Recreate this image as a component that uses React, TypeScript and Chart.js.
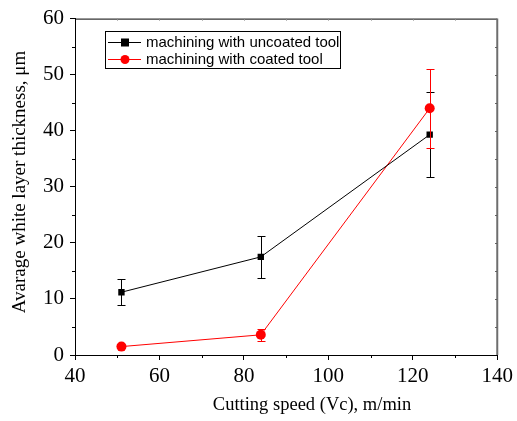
import React, { useEffect, useRef } from "react";
import { Chart, registerables } from "chart.js";
Chart.register(...registerables);

const speeds = [51, 84, 124];
const uncoated = [11.2, 17.5, 39.3];
const uncoatedErr = [2.3, 3.8, 7.6];
const coated = [1.5, 3.6, 44.0];
const coatedErr = [0.2, 1.1, 7.0];
const xTicks = [40, 60, 80, 100, 120, 140];
const yTicks = [0, 10, 20, 30, 40, 50, 60];
const legendLabels = ["machining with uncoated tool", "machining with coated tool"];
const xTitle = "Cutting speed (Vc), m/min";
const yTitle = "Avarage white layer thickness, μm";

const serif = "'Liberation Serif', 'Times New Roman', serif";
const sans = "'Liberation Sans', Arial, sans-serif";

const decor = {
  id: "decor",
  beforeDatasetsDraw(chart: any) {
    const { ctx, chartArea: a, scales } = chart;
    const xs = scales.x, ys = scales.y;
    ctx.save();
    ctx.strokeStyle = "#000";
    ctx.lineWidth = 1;
    for (let v = 50; v < 140; v += 20) {
      const px = Math.round(xs.getPixelForValue(v)) + 0.5;
      ctx.beginPath(); ctx.moveTo(px, a.bottom); ctx.lineTo(px, a.bottom + 3); ctx.stroke();
    }
    for (let v = 5; v < 60; v += 10) {
      const py = Math.round(ys.getPixelForValue(v)) + 0.5;
      ctx.beginPath(); ctx.moveTo(a.left, py); ctx.lineTo(a.left - 3, py); ctx.stroke();
    }
    // top frame & inner ticks
    ctx.beginPath(); ctx.moveTo(a.left, a.top + 0.5); ctx.lineTo(a.right, a.top + 0.5); ctx.stroke();
    ctx.strokeStyle = "#888";
    for (let v = 50; v < 140; v += 10) {
      const px = Math.round(xs.getPixelForValue(v)) + 0.5;
      ctx.beginPath(); ctx.moveTo(px, a.top); ctx.lineTo(px, a.top + 2); ctx.stroke();
    }
    ctx.strokeStyle = "#333";
    for (let v = 5; v < 60; v += 5) {
      const py = Math.round(ys.getPixelForValue(v)) + 0.5;
      ctx.beginPath(); ctx.moveTo(a.right, py); ctx.lineTo(a.right - 2, py); ctx.stroke();
    }
    ctx.strokeStyle = "#6e6e6e";
    ctx.lineWidth = 2;
    ctx.beginPath(); ctx.moveTo(a.right, a.top); ctx.lineTo(a.right, a.bottom); ctx.stroke();
    // titles
    ctx.fillStyle = "#000";
    ctx.textAlign = "center";
    ctx.textBaseline = "middle";
    ctx.font = `18.5px ${serif}`;
    ctx.fillText(xTitle, 312, 405);
    ctx.translate(20, 182);
    ctx.rotate(-Math.PI / 2);
    ctx.font = `19px ${serif}`;
    ctx.fillText(yTitle, 0, 0);
    ctx.restore();
  },
  afterDatasetsDraw(chart: any) {
    const { ctx, scales } = chart;
    const xs = scales.x, ys = scales.y;
    const draw = (vals: number[], errs: number[], color: string) => {
      ctx.save();
      ctx.strokeStyle = color;
      ctx.lineWidth = 1;
      vals.forEach((v, i) => {
        const px = Math.round(xs.getPixelForValue(speeds[i])) + 0.5;
        const t = Math.round(ys.getPixelForValue(v + errs[i])) + 0.5;
        const b = Math.round(ys.getPixelForValue(v - errs[i])) + 0.5;
        if (b - t < 3) return;
        ctx.beginPath();
        ctx.moveTo(px, t); ctx.lineTo(px, b);
        ctx.moveTo(px - 4, t); ctx.lineTo(px + 4, t);
        ctx.moveTo(px - 4, b); ctx.lineTo(px + 4, b);
        ctx.stroke();
      });
      ctx.restore();
    };
    draw(uncoated, uncoatedErr, "#000");
    draw(coated, coatedErr, "#ff0000");
    // legend
    ctx.save();
    ctx.strokeStyle = "#000";
    ctx.lineWidth = 1;
    ctx.strokeRect(105.5, 31.5, 235, 37);
    const rows = [
      { y: 42, color: "#000", sq: true },
      { y: 59, color: "#ff0000", sq: false },
    ];
    ctx.font = `15px ${sans}`;
    ctx.textBaseline = "middle";
    rows.forEach((r, i) => {
      ctx.strokeStyle = r.color;
      ctx.beginPath(); ctx.moveTo(108, r.y + 0.5); ctx.lineTo(141, r.y + 0.5); ctx.stroke();
      ctx.fillStyle = r.color;
      if (r.sq) ctx.fillRect(121, r.y - 3.5, 8, 8);
      else { ctx.beginPath(); ctx.arc(125, r.y + 0.5, 4.5, 0, Math.PI * 2); ctx.fill(); }
      ctx.fillStyle = "#000";
      ctx.fillText(legendLabels[i], 146, r.y + 1);
    });
    ctx.restore();
  },
};

export default function App() {
  const ref = useRef<HTMLCanvasElement>(null);
  useEffect(() => {
    document.body.style.margin = "0";
    const chart = new Chart(ref.current!, {
      type: "scatter",
      data: {
        datasets: [
          {
            label: legendLabels[0],
            data: speeds.map((x, i) => ({ x, y: uncoated[i] })),
            showLine: true,
            borderColor: "#000",
            backgroundColor: "#000",
            borderWidth: 1,
            pointStyle: "rect",
            pointRadius: 4.5,
            pointBorderWidth: 0,
          },
          {
            label: legendLabels[1],
            data: speeds.map((x, i) => ({ x, y: coated[i] })),
            showLine: true,
            borderColor: "#ff0000",
            backgroundColor: "#ff0000",
            borderWidth: 1,
            pointStyle: "circle",
            pointRadius: 5,
            pointBorderWidth: 0,
          },
        ],
      },
      options: {
        animation: false,
        responsive: false,
        layout: { padding: { top: 17, right: 19, left: 0, bottom: 0 } },
        plugins: { legend: { display: false }, tooltip: { enabled: false } },
        scales: {
          x: {
            type: "linear",
            min: 40,
            max: 140,
            afterBuildTicks: (s: any) => { s.ticks = xTicks.map((v) => ({ value: v })); },
            afterFit: (s: any) => { s.height = 66; },
            grid: { display: true, drawOnChartArea: false, tickLength: 5, color: "#000" },
            border: { color: "#000", width: 1 },
            ticks: { font: { family: serif, size: 21 }, color: "#000", padding: 4, maxRotation: 0 },
          },
          y: {
            type: "linear",
            min: 0,
            max: 60,
            afterBuildTicks: (s: any) => { s.ticks = yTicks.map((v) => ({ value: v })); },
            afterFit: (s: any) => { s.width = 75; },
            grid: { display: true, drawOnChartArea: false, tickLength: 5, color: "#000" },
            border: { color: "#000", width: 1 },
            ticks: { font: { family: serif, size: 21 }, color: "#000", padding: 6 },
          },
        },
      },
      plugins: [decor],
    });
    return () => chart.destroy();
  }, []);
  return (
    <div style={{ width: 517, height: 421, background: "#fff" }}>
      <canvas ref={ref} width={517} height={421} />
    </div>
  );
}
